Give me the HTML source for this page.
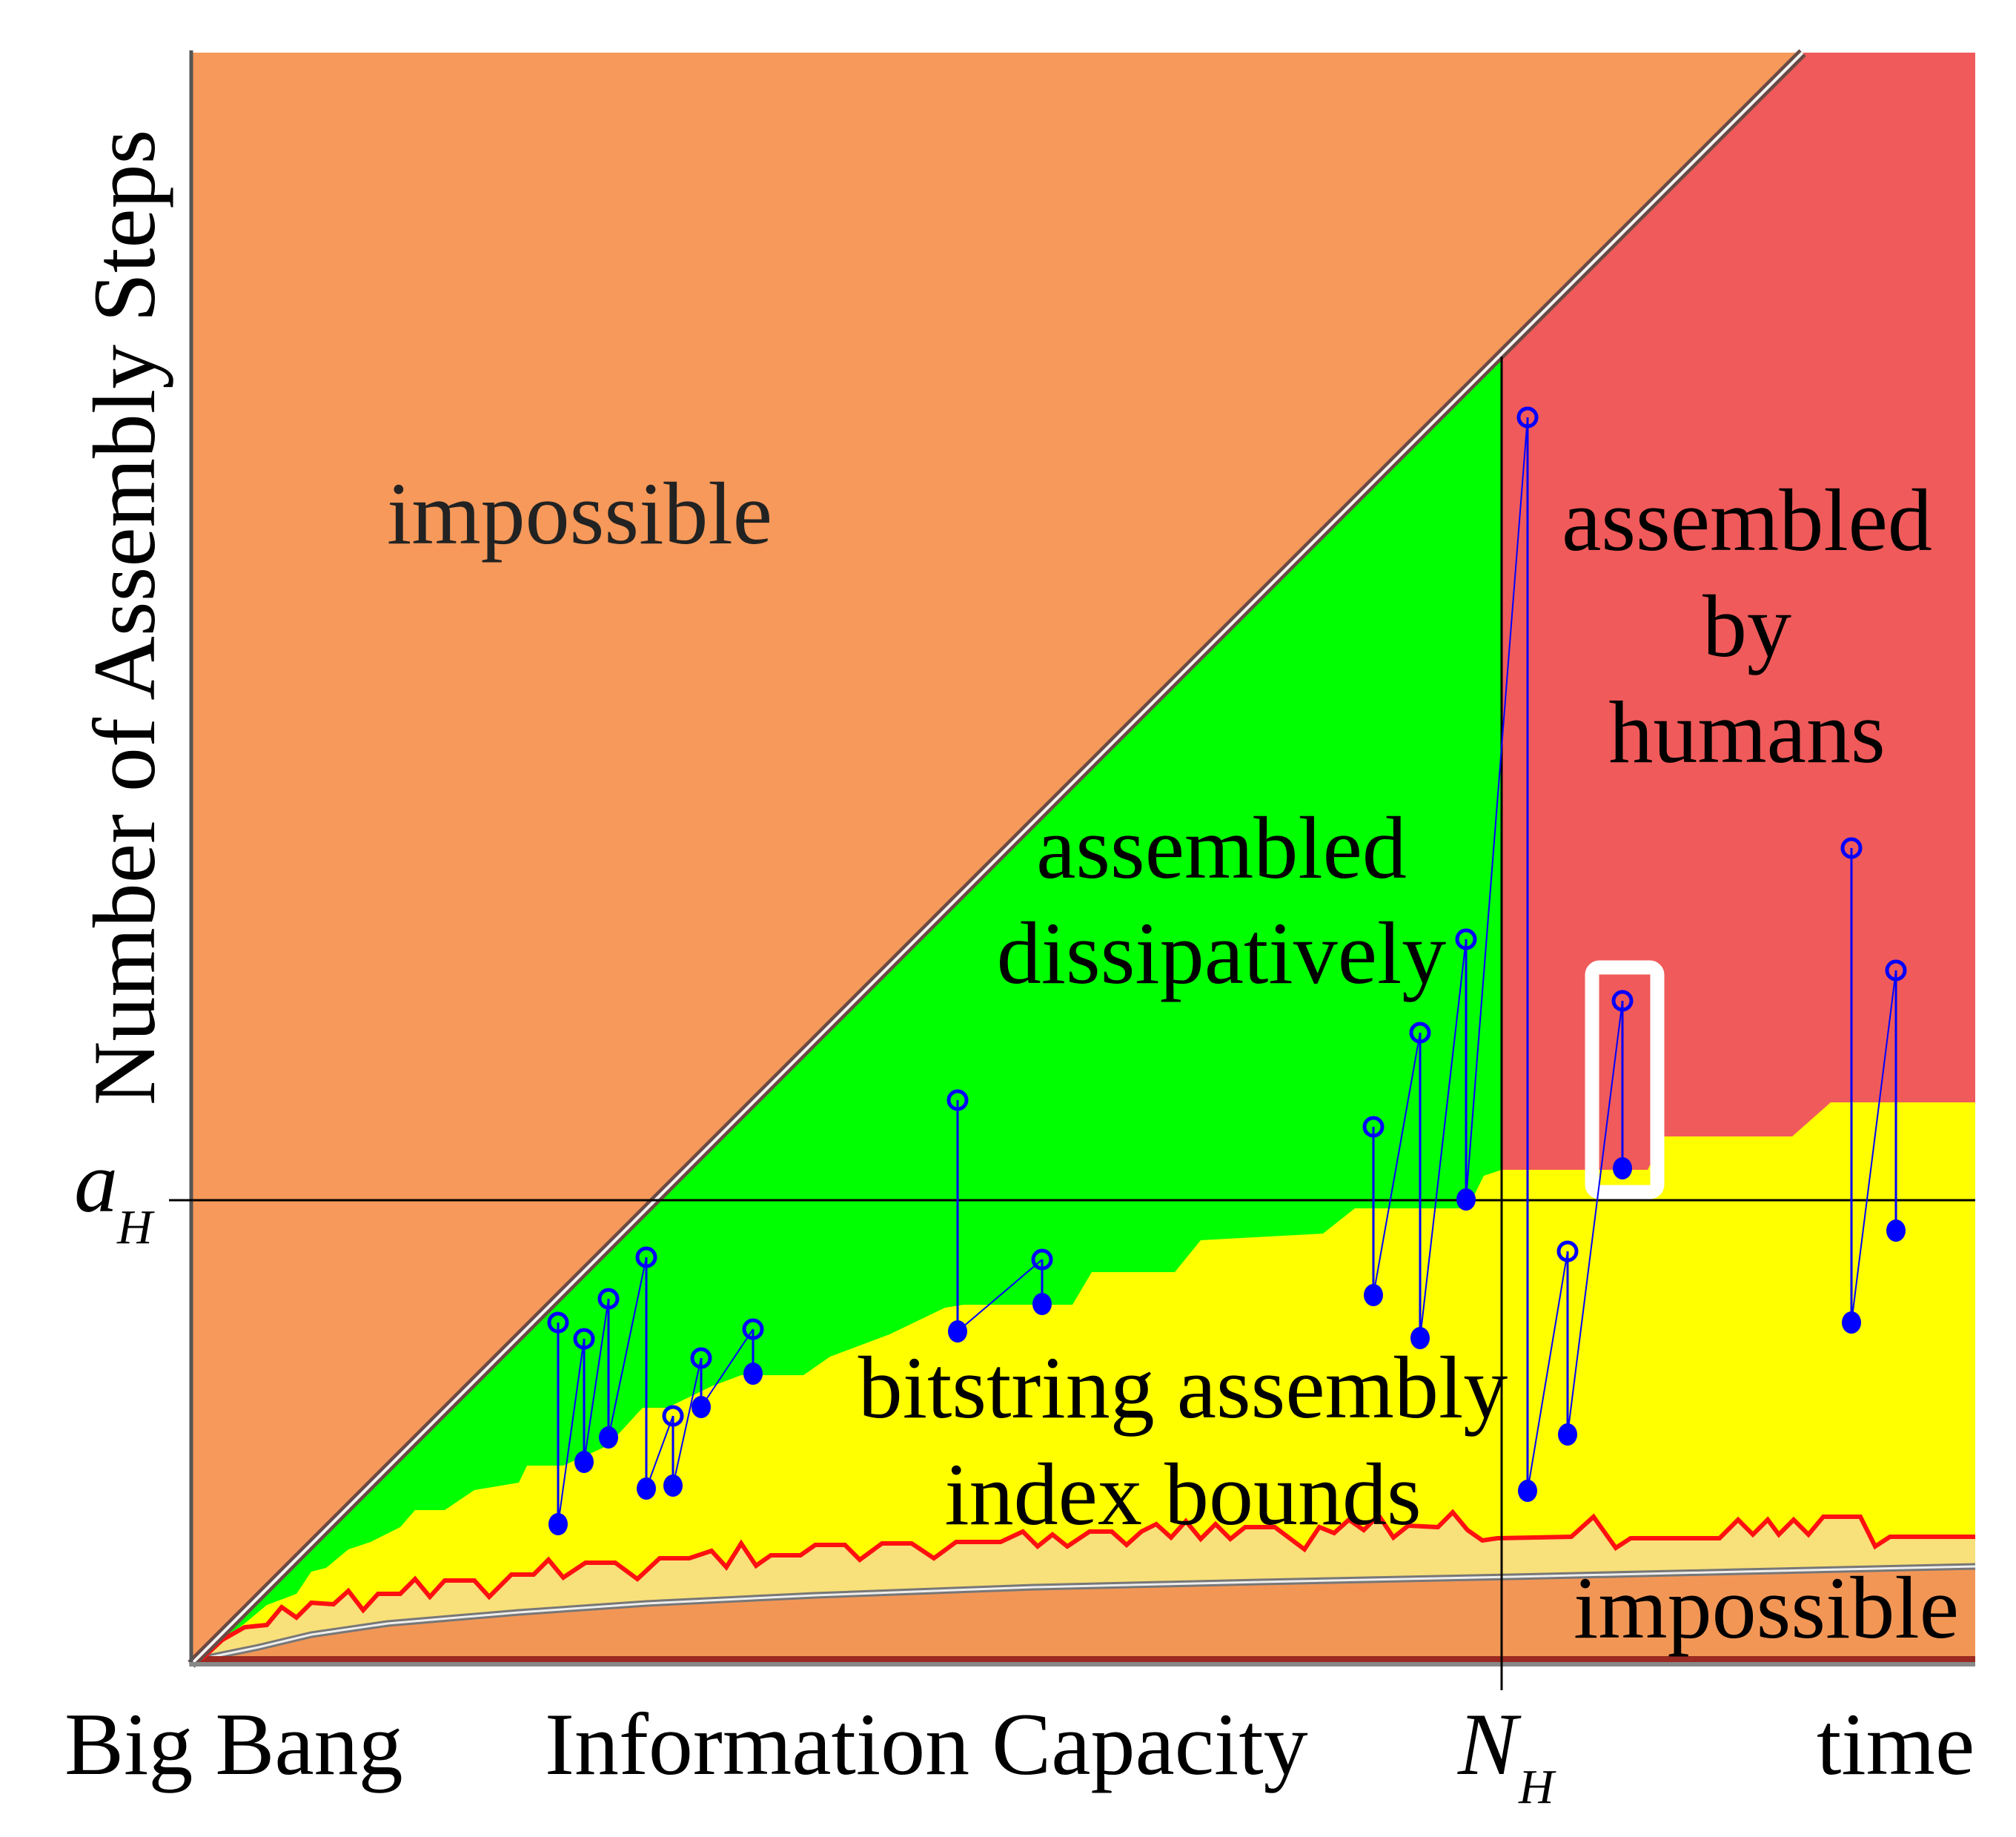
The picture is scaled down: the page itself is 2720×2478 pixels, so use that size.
<!DOCTYPE html>
<html><head><meta charset="utf-8">
<style>
html,body{margin:0;padding:0;background:#fff;}
svg{display:block;}
text{font-family:"Liberation Serif",serif;}
</style></head>
<body>
<svg id="chart" width="2720" height="2478" viewBox="0 0 2720 2478" xmlns="http://www.w3.org/2000/svg">
  <rect x="0" y="0" width="2720" height="2478" fill="#ffffff"/>
  <rect x="258" y="71" width="2407" height="2174" fill="#f6995a"/>
  <polygon points="2026,477 2432,71 2665,71 2665,2245 2026,2245" fill="#f05a5a"/>
  <polygon points="258,2245 2026,477 2026,2245" fill="#00ff00"/>
  <polygon id="yellow" fill="#ffff00"/>
  <polygon id="lightband" fill="#f8e07a"/>
  <polygon id="lowerOrange" fill="#f29656"/>
  <path id="greyCurve" fill="none" stroke="#777" stroke-width="9"/>
  <path id="greyCurveIn" fill="none" stroke="#eee" stroke-width="3"/>
  <rect x="258" y="2234" width="2407" height="8" fill="#9a2a22"/>
  <polyline id="zigzag" fill="none" stroke="#ff1010" stroke-width="6" stroke-linejoin="miter"/>
  <line x1="258" y1="2245" x2="2432" y2="71" stroke="#6a4a44" stroke-width="13"/>
  <line x1="258" y1="2245" x2="2432" y2="71" stroke="#f4f4f4" stroke-width="4"/>
  <line x1="258" y1="68" x2="258" y2="2248" stroke="#555" stroke-width="5"/>
  <line x1="256" y1="2245" x2="2665" y2="2245" stroke="#888" stroke-width="6"/>
  <line x1="228" y1="1619" x2="2665" y2="1619" stroke="#000" stroke-width="3"/>
  <line x1="2026" y1="481" x2="2026" y2="2280" stroke="#000" stroke-width="3"/>
  <rect x="2148" y="1305" width="88" height="303" rx="10" fill="none" stroke="#ffffff" stroke-width="19"/>
  <g id="markers"></g>

  <text x="782" y="733" font-size="120" fill="#222" text-anchor="middle">impossible</text>
  <text x="1648" y="1184" font-size="120" text-anchor="middle">assembled</text>
  <text x="1648" y="1326" font-size="120" text-anchor="middle">dissipatively</text>
  <text x="2357" y="742" font-size="120" text-anchor="middle">assembled</text>
  <text x="2357" y="885" font-size="120" text-anchor="middle">by</text>
  <text x="2357" y="1028" font-size="120" text-anchor="middle">humans</text>
  <text x="1596" y="1912" font-size="120" text-anchor="middle">bitstring assembly</text>
  <text x="1596" y="2056" font-size="120" text-anchor="middle">index bounds</text>
  <text x="2383" y="2209" font-size="120" text-anchor="middle">impossible</text>
  <text transform="translate(208,833) rotate(-90)" font-size="120" text-anchor="middle">Number of Assembly Steps</text>
  <text x="100" y="1634" font-size="118" font-style="italic">a</text>
  <text x="158" y="1677" font-size="66" font-style="italic">H</text>
  <text x="87" y="2393" font-size="120">Big Bang</text>
  <text x="735" y="2393" font-size="120">Information Capacity</text>
  <text x="1967" y="2393" font-size="120" font-style="italic">N</text>
  <text x="2049" y="2432" font-size="66" font-style="italic">H</text>
  <text x="2451" y="2393" font-size="120">time</text>
</svg>
<script>
// staircase top of the yellow region
const stairX = [262,330,360,400,420,440,470,500,540,560,600,640,700,711,760,820,867,900,960,1000,1084,1120,1200,1275,1300,1447,1473,1585,1620,1785,1828,1980,2002,2026,2223,2245,2418,2470,2665];
const stairY = [2240,2190,2165,2150,2120,2115,2090,2080,2060,2037,2037,2010,2000,1977,1977,1950,1899,1899,1870,1855,1855,1830,1800,1764,1760,1760,1716,1716,1673,1664,1630,1630,1586,1578,1578,1533,1533,1487,1487];
// red zigzag bound
const zigX = [272,300,330,360,380,400,420,450,470,490,510,540,560,580,600,640,660,690,720,740,760,790,830,860,890,930,960,980,1000,1020,1040,1080,1100,1140,1160,1190,1230,1260,1290,1350,1380,1400,1420,1440,1470,1500,1520,1540,1560,1580,1600,1620,1640,1660,1680,1720,1760,1780,1800,1820,1840,1860,1880,1900,1940,1960,1980,2000,2020,2120,2150,2180,2200,2320,2345,2365,2385,2400,2420,2440,2460,2510,2530,2550,2665];
const zigY = [2238,2212,2195,2192,2168,2182,2162,2164,2146,2172,2150,2150,2130,2154,2132,2132,2154,2124,2124,2104,2128,2108,2108,2130,2102,2102,2092,2114,2082,2112,2098,2098,2084,2084,2104,2082,2082,2102,2080,2080,2066,2086,2070,2086,2066,2066,2084,2066,2056,2074,2052,2076,2056,2076,2060,2060,2090,2060,2068,2050,2064,2044,2074,2058,2060,2040,2064,2078,2075,2073,2046,2088,2075,2075,2050,2070,2050,2070,2050,2070,2046,2046,2086,2073,2073];
// lower bound curve
const curveX = [262,300,349,420,523,700,872,1100,1395,1700,2040,2350,2665];
const curveY = [2240,2232,2222,2205,2190,2175,2163,2152,2141,2134,2127,2120,2113];
// assembly measurements: open (upper) and filled (lower) values, grouped series
const ptX = [753,788,821,872,908,946,1016,1292,1406,1853,1916,1978,2061,2115,2189,2498,2558];
const openY = [1784,1806,1752,1696,1910,1832,1793,1484,1699,1520,1393,1267,563,1688,1350,1144,1309];
const fillY = [2056,1972,1939,2008,2004,1898,1853,1796,1759,1747,1805,1618,2011,1935,1576,1784,1660];
const groupId = [0,0,0,0,0,0,0,1,1,2,2,2,2,2,2,3,3];

const pts = (xs, ys) => xs.map((x,i)=>x+','+ys[i]).join(' ');
let yp = [];
for (let i=0;i<stairX.length;i++) yp.push(stairX[i]+','+stairY[i]);
yp.push('2665,2073');
for (let i=zigX.length-1;i>=0;i--) yp.push(zigX[i]+','+zigY[i]);
document.getElementById('yellow').setAttribute('points', yp.join(' '));
let lb = [];
for (let i=0;i<zigX.length;i++) lb.push(zigX[i]+','+(zigY[i]-2));
for (let i=curveX.length-1;i>=0;i--) lb.push(curveX[i]+','+curveY[i]);
document.getElementById('lightband').setAttribute('points', lb.join(' '));
let lo = [];
for (let i=0;i<curveX.length;i++) lo.push(curveX[i]+','+curveY[i]);
lo.push('2665,2245'); lo.push('258,2245');
document.getElementById('lowerOrange').setAttribute('points', lo.join(' '));
document.getElementById('zigzag').setAttribute('points', pts(zigX, zigY));
const cd = 'M'+curveX.map((x,i)=>x+' '+curveY[i]).join(' L');
document.getElementById('greyCurve').setAttribute('d', cd);
document.getElementById('greyCurveIn').setAttribute('d', cd);

const NS='http://www.w3.org/2000/svg';
const g=document.getElementById('markers');
function mk(tag, attrs){const e=document.createElementNS(NS,tag);for(const k in attrs)e.setAttribute(k,attrs[k]);g.appendChild(e);return e;}
for (let i=0;i<ptX.length;i++){
  if (i>0 && groupId[i]===groupId[i-1]){
    const c = mk('line',{x1:ptX[i-1],y1:fillY[i-1],x2:ptX[i],y2:openY[i],stroke:'#0000ff','stroke-width':2});
    
    
  }
  const v = mk('line',{x1:ptX[i],y1:openY[i],x2:ptX[i],y2:fillY[i],stroke:'#0000ff','stroke-width':3});
  
  
}
for (let i=0;i<ptX.length;i++){
  const o = mk('circle',{cx:ptX[i],cy:openY[i],r:12,fill:'none',stroke:'#0000ff','stroke-width':5});
  
  
  const f = mk('ellipse',{cx:ptX[i],cy:fillY[i],rx:13,ry:15,fill:'#0000ff'});
  
  
}
</script>
</body></html>
